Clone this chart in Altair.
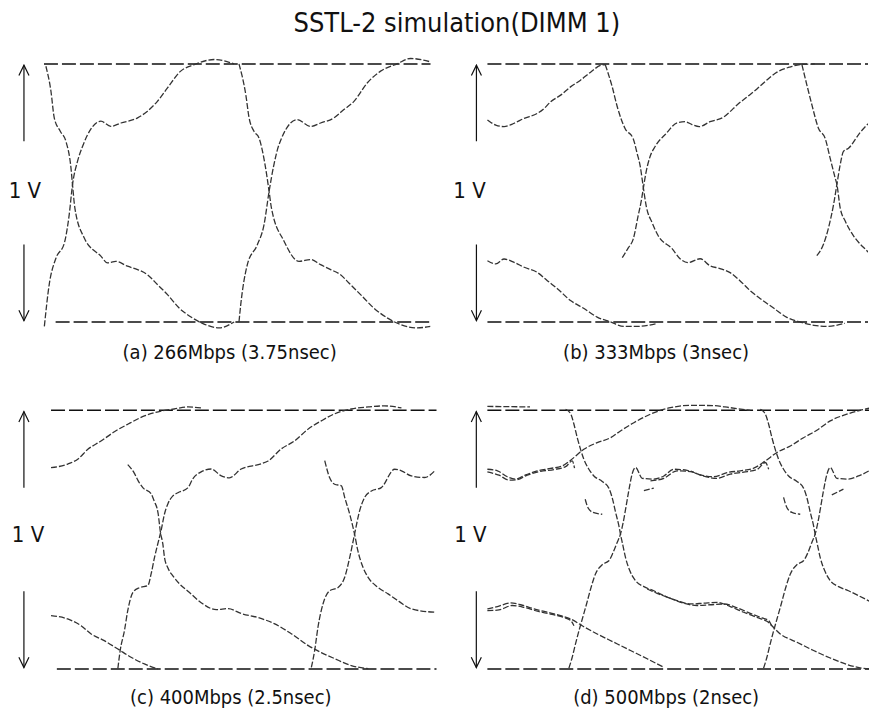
import altair as alt
import pandas as pd

FONT = "Liberation Sans Narrow, DejaVu Sans Condensed, sans-serif"
TITLE = "SSTL-2 simulation(DIMM 1)"

# time in unit intervals (UI), voltage normalised to the 1 V swing (0 = low rail, 1 = high rail)
CAPTIONS = ["(a) 266Mbps (3.75nsec)", "(b) 333Mbps (3nsec)", "(c) 400Mbps (2.5nsec)", "(d) 500Mbps (2nsec)"]
SWING_LABEL = "1 V"

# ---------------- (a) 266 Mbps ----------------
A_R1_t = [0.002, 0.027, 0.062, 0.105, 0.130, 0.147, 0.173, 0.199, 0.293, 0.344, 0.396, 0.482, 0.533, 0.584, 0.636, 0.704, 0.773, 0.876, 0.979]
A_R1_v = [-0.017, 0.145, 0.248, 0.306, 0.416, 0.532, 0.623, 0.681, 0.778, 0.758, 0.771, 0.791, 0.817, 0.855, 0.907, 0.972, 0.997, 1.017, 1.0]
A_F1_t = [0.010, 0.036, 0.053, 0.084, 0.113, 0.139, 0.147, 0.159, 0.207, 0.293, 0.327, 0.370, 0.430, 0.482, 0.533, 0.584, 0.636, 0.696, 0.764, 0.824, 0.901, 0.979]
A_F1_v = [0.991, 0.894, 0.791, 0.739, 0.700, 0.597, 0.532, 0.442, 0.326, 0.255, 0.229, 0.235, 0.216, 0.203, 0.183, 0.145, 0.106, 0.054, 0.016, -0.008, -0.023, 0.0]
A_R2_t = [1.004, 1.013, 1.047, 1.099, 1.133, 1.159, 1.184, 1.210, 1.304, 1.373, 1.424, 1.493, 1.544, 1.596, 1.664, 1.733, 1.818, 1.887, 1.990]
A_R2_v = [0.0, 0.067, 0.222, 0.300, 0.377, 0.506, 0.610, 0.687, 0.784, 0.758, 0.771, 0.791, 0.823, 0.855, 0.926, 0.972, 1.0, 1.021, 1.008]
A_F2_t = [1.004, 1.039, 1.056, 1.081, 1.107, 1.141, 1.159, 1.171, 1.236, 1.313, 1.373, 1.424, 1.476, 1.527, 1.570, 1.630, 1.698, 1.767, 1.835, 1.921, 1.990]
A_F2_v = [1.0, 0.881, 0.791, 0.739, 0.713, 0.597, 0.506, 0.442, 0.313, 0.235, 0.242, 0.222, 0.203, 0.183, 0.151, 0.106, 0.054, 0.016, -0.010, -0.023, -0.017]

# ---------------- (b) 333 Mbps ----------------
B1_t = [0, 0.043, 0.086, 0.138, 0.190, 0.258, 0.293, 0.327, 0.379, 0.430, 0.482, 0.534, 0.585, 0.611]
B1_v = [0.783, 0.763, 0.757, 0.770, 0.789, 0.808, 0.827, 0.853, 0.879, 0.911, 0.937, 0.968, 0.994, 0.997]
B2_t = [0.610, 0.646, 0.672, 0.713, 0.754, 0.775, 0.791, 0.806, 0.822, 0.853, 0.884, 0.956, 0.997, 1.039, 1.101, 1.152, 1.204, 1.256, 1.307, 1.359, 1.411, 1.483, 1.550, 1.618, 1.690, 1.757, 1.850]
B2_v = [0.997, 0.911, 0.834, 0.749, 0.711, 0.653, 0.603, 0.526, 0.449, 0.384, 0.334, 0.284, 0.245, 0.230, 0.245, 0.218, 0.207, 0.191, 0.160, 0.122, 0.091, 0.053, 0.018, 0.0, -0.013, -0.017, -0.005]
B3_t = [0.698, 0.729, 0.755, 0.780, 0.796, 0.806, 0.822, 0.842, 0.868, 0.925, 0.982, 1.023, 1.059, 1.096, 1.152, 1.225, 1.256, 1.292, 1.344, 1.395, 1.447, 1.499, 1.566, 1.618, 1.695]
B3_v = [0.249, 0.287, 0.322, 0.411, 0.468, 0.514, 0.584, 0.641, 0.680, 0.730, 0.772, 0.776, 0.765, 0.757, 0.776, 0.795, 0.815, 0.841, 0.872, 0.903, 0.938, 0.968, 0.988, 0.997, 1.0]
B4_t = [0, 0.043, 0.086, 0.138, 0.190, 0.258, 0.310, 0.362, 0.430, 0.500, 0.568, 0.637, 0.706, 0.775, 0.879]
B4_v = [0.237, 0.225, 0.244, 0.231, 0.212, 0.192, 0.160, 0.129, 0.083, 0.052, 0.019, 0.0, -0.017, -0.017, -0.006]
B5_t = [1.628, 1.654, 1.680, 1.714, 1.748, 1.774, 1.800, 1.809, 1.826, 1.852, 1.895, 1.964, 1.999]
B5_v = [0.997, 0.917, 0.840, 0.750, 0.712, 0.635, 0.558, 0.533, 0.442, 0.391, 0.334, 0.276, 0.250]
B6_t = [1.705, 1.740, 1.766, 1.792, 1.809, 1.826, 1.843, 1.869, 1.930, 1.981]
B6_v = [0.257, 0.302, 0.366, 0.456, 0.533, 0.609, 0.661, 0.673, 0.735, 0.776]

# ---------------- (c) 400 Mbps ----------------
C_UL_t = [0, 0.086, 0.138, 0.190, 0.258, 0.327, 0.396, 0.482, 0.568, 0.636, 0.708, 0.775]
C_UL_v = [0.778, 0.792, 0.811, 0.849, 0.881, 0.917, 0.946, 0.978, 0.997, 1.005, 1.013, 1.009]
C_R1_t = [0.345, 0.357, 0.379, 0.396, 0.422, 0.456, 0.500, 0.517, 0.534, 0.555, 0.568, 0.586, 0.603, 0.629, 0.655, 0.706, 0.732, 0.775, 0.827, 0.879, 0.921, 0.982, 1.085, 1.121, 1.189, 1.256, 1.328, 1.395, 1.463, 1.550, 1.638, 1.721, 1.809]
C_R1_v = [0.001, 0.071, 0.148, 0.225, 0.295, 0.314, 0.322, 0.368, 0.430, 0.495, 0.534, 0.600, 0.638, 0.669, 0.681, 0.700, 0.735, 0.762, 0.773, 0.746, 0.739, 0.773, 0.793, 0.804, 0.851, 0.881, 0.928, 0.959, 0.986, 1.005, 1.013, 1.017, 1.009]
C_F1_t = [0.396, 0.429, 0.450, 0.475, 0.517, 0.532, 0.553, 0.565, 0.577, 0.586, 0.603, 0.629, 0.663, 0.715, 0.775, 0.853, 0.915, 0.982, 1.070, 1.152, 1.240, 1.328, 1.395, 1.463, 1.550, 1.638]
C_F1_v = [0.790, 0.758, 0.727, 0.700, 0.677, 0.650, 0.600, 0.527, 0.484, 0.430, 0.391, 0.360, 0.329, 0.295, 0.256, 0.229, 0.233, 0.214, 0.198, 0.175, 0.136, 0.090, 0.063, 0.040, 0.013, 0.001]
C_LL_t = [0, 0.086, 0.155, 0.207, 0.275, 0.345, 0.413, 0.482, 0.551]
C_LL_v = [0.206, 0.193, 0.167, 0.135, 0.109, 0.077, 0.045, 0.019, 0.0]
C_F2_t = [1.413, 1.438, 1.464, 1.499, 1.516, 1.542, 1.567, 1.584, 1.611, 1.637, 1.688, 1.740, 1.798, 1.860, 1.981]
C_F2_v = [0.805, 0.740, 0.714, 0.708, 0.663, 0.598, 0.521, 0.457, 0.392, 0.354, 0.315, 0.290, 0.260, 0.232, 0.219]
C_R2_t = [1.344, 1.361, 1.378, 1.404, 1.438, 1.482, 1.516, 1.542, 1.567, 1.593, 1.619, 1.654, 1.705, 1.774, 1.809, 1.860, 1.929, 1.981]
C_R2_v = [0.006, 0.071, 0.161, 0.251, 0.302, 0.315, 0.354, 0.431, 0.521, 0.611, 0.663, 0.688, 0.701, 0.772, 0.766, 0.746, 0.740, 0.766]

# ---------------- (d) 500 Mbps ----------------
D_A_t = [0, 0.052, 0.103, 0.146, 0.198, 0.258, 0.326, 0.387, 0.430, 0.498, 0.567, 0.636, 0.687, 0.756, 0.842, 0.945, 1.048, 1.168, 1.254, 1.357]
D_A_v = [0.772, 0.766, 0.743, 0.734, 0.750, 0.766, 0.775, 0.785, 0.807, 0.849, 0.875, 0.894, 0.920, 0.952, 0.985, 1.010, 1.019, 1.018, 1.010, 1.0]
D_B_t = [0, 0.060, 0.112, 0.155, 0.206, 0.275, 0.344, 0.404, 0.438, 0.450]
D_B_v = [0.762, 0.749, 0.730, 0.732, 0.749, 0.764, 0.771, 0.782, 0.804, 0.776]
D_F_t = [0.404, 0.430, 0.447, 0.464, 0.481, 0.498, 0.524, 0.550, 0.593, 0.627, 0.644, 0.662, 0.679, 0.687, 0.698, 0.713, 0.735, 0.765, 0.808, 0.859, 0.911, 0.979, 1.048, 1.117, 1.186, 1.254, 1.323, 1.392, 1.443, 1.512, 1.598, 1.684, 1.770, 1.856, 1.924, 1.985]
D_F_v = [1.004, 0.987, 0.946, 0.894, 0.849, 0.811, 0.772, 0.746, 0.725, 0.699, 0.663, 0.605, 0.553, 0.521, 0.483, 0.431, 0.380, 0.341, 0.318, 0.302, 0.283, 0.264, 0.251, 0.254, 0.257, 0.241, 0.219, 0.199, 0.184, 0.135, 0.103, 0.071, 0.042, 0.017, 0.004, 0.0]
D_F2_t = [0.825, 0.876, 0.945, 1.014, 1.082, 1.151, 1.220, 1.289, 1.357, 1.418, 1.452, 1.469]
D_F2_v = [0.309, 0.292, 0.273, 0.254, 0.245, 0.248, 0.251, 0.236, 0.215, 0.197, 0.187, 0.163]
D_LL_t = [0, 0.052, 0.120, 0.172, 0.241, 0.309, 0.378, 0.430, 0.498, 0.567, 0.653, 0.739, 0.825, 0.911]
D_LL_v = [0.232, 0.241, 0.255, 0.248, 0.232, 0.219, 0.206, 0.193, 0.163, 0.135, 0.103, 0.071, 0.039, 0.006]
D_LL2_t = [0, 0.060, 0.129, 0.189, 0.258, 0.326, 0.395, 0.430, 0.447]
D_LL2_v = [0.225, 0.228, 0.245, 0.238, 0.223, 0.212, 0.199, 0.187, 0.167]
D_R_t = [0.421, 0.438, 0.455, 0.473, 0.490, 0.512, 0.533, 0.558, 0.593, 0.627, 0.649, 0.670, 0.687, 0.701, 0.715, 0.730, 0.747, 0.765, 0.799, 0.859, 0.911, 0.962, 1.031, 1.100, 1.168, 1.237, 1.306, 1.375, 1.435, 1.495, 1.564, 1.632, 1.701, 1.770, 1.856, 1.924, 1.985]
D_R_v = [0.003, 0.045, 0.097, 0.148, 0.193, 0.251, 0.309, 0.367, 0.403, 0.418, 0.450, 0.489, 0.521, 0.566, 0.624, 0.689, 0.753, 0.779, 0.737, 0.734, 0.746, 0.772, 0.768, 0.750, 0.743, 0.759, 0.766, 0.776, 0.804, 0.837, 0.862, 0.894, 0.923, 0.959, 0.985, 1.0, 1.010]
D_F3_t = [1.409, 1.435, 1.452, 1.469, 1.486, 1.503, 1.529, 1.555, 1.598, 1.632, 1.649, 1.667, 1.684, 1.692, 1.703, 1.718, 1.741, 1.770, 1.813, 1.864, 1.916, 1.985]
D_F3_v = [1.004, 0.985, 0.946, 0.894, 0.849, 0.811, 0.772, 0.746, 0.725, 0.699, 0.663, 0.605, 0.553, 0.521, 0.483, 0.431, 0.380, 0.341, 0.318, 0.302, 0.283, 0.257]
D_R2_t = [1.426, 1.443, 1.460, 1.478, 1.495, 1.517, 1.538, 1.564, 1.598, 1.632, 1.655, 1.675, 1.692, 1.706, 1.720, 1.735, 1.753, 1.770, 1.804, 1.864, 1.916, 1.985]
D_R2_v = [0.003, 0.045, 0.097, 0.148, 0.193, 0.251, 0.309, 0.367, 0.403, 0.418, 0.450, 0.489, 0.521, 0.566, 0.624, 0.689, 0.753, 0.779, 0.737, 0.734, 0.746, 0.772]
D_B2_t = [0.842, 0.911, 0.979, 1.048, 1.117, 1.186, 1.254, 1.323, 1.392, 1.435, 1.452]
D_B2_v = [0.727, 0.737, 0.766, 0.763, 0.745, 0.737, 0.753, 0.761, 0.771, 0.798, 0.772]
D_H1_t = [0.505, 0.519, 0.545, 0.593]
D_H1_v = [0.656, 0.624, 0.605, 0.598]
D_H2_t = [1.529, 1.546, 1.572, 1.615]
D_H2_v = [0.663, 0.624, 0.605, 0.598]
D_S1_t = [0.808, 0.859]
D_S1_v = [0.689, 0.699]
D_S2_t = [1.778, 1.838]
D_S2_v = [0.673, 0.695]
D_OV_t = [0.0, 0.22]
D_OV_v = [1.015, 1.013]

# rails (high / low level), start of each rail in UI
RAIL_START_HIGH = [0.0, 0.0, 0.0, 0.0]
RAIL_START_LOW = [0.06, 0.0, 0.03, 0.0]
RAIL_END = 2.0

# swing annotation: arrow x, label x, label level (UI / normalised V)
ARROW_X = [-0.103, -0.057, -0.140, -0.057]
LABEL_X = [-0.098, -0.093, -0.119, -0.088]
LABEL_V = [0.507, 0.507, 0.516, 0.516]
CAPTION_X = [0.956, 0.873, 0.928, 0.923]
CAPTION_V = [-0.120, -0.120, -0.111, -0.111]

# per-panel scale domains (UI and V) and pixels per unit
X_DOMAINS = [[-0.18, 1.99], [-0.243, 1.97], [-0.217, 1.99], [-0.211, 1.97]]
PX_PER_UI = [194.5, 193.5, 194.0, 194.0]
Y_DOMAINS = [[-0.159, 1.068], [-0.159, 1.068], [-0.142, 1.067], [-0.142, 1.067]]
PX_PER_V = 258.5

TRACES = [
    {"R1": (A_R1_t, A_R1_v), "F1": (A_F1_t, A_F1_v), "R2": (A_R2_t, A_R2_v), "F2": (A_F2_t, A_F2_v)},
    {"B1": (B1_t, B1_v), "B2": (B2_t, B2_v), "B3": (B3_t, B3_v), "B4": (B4_t, B4_v), "B5": (B5_t, B5_v), "B6": (B6_t, B6_v)},
    {"UL": (C_UL_t, C_UL_v), "R1": (C_R1_t, C_R1_v), "F1": (C_F1_t, C_F1_v), "LL": (C_LL_t, C_LL_v),
     "F2": (C_F2_t, C_F2_v), "R2": (C_R2_t, C_R2_v)},
    {"A": (D_A_t, D_A_v), "B": (D_B_t, D_B_v), "F": (D_F_t, D_F_v), "F2": (D_F2_t, D_F2_v), "LL": (D_LL_t, D_LL_v),
     "LL2": (D_LL2_t, D_LL2_v), "R": (D_R_t, D_R_v), "F3": (D_F3_t, D_F3_v), "R2": (D_R2_t, D_R2_v),
     "B2": (D_B2_t, D_B2_v), "H1": (D_H1_t, D_H1_v), "H2": (D_H2_t, D_H2_v), "S1": (D_S1_t, D_S1_v),
     "S2": (D_S2_t, D_S2_v), "OV": (D_OV_t, D_OV_v)},
]


def long_df(strokes):
    rows = []
    for sid, (ts, vs) in strokes.items():
        for i, (t, v) in enumerate(zip(ts, vs)):
            rows.append({"sid": sid, "i": i, "t": t, "v": v})
    return pd.DataFrame(rows)


def panel(k):
    xs = alt.Scale(domain=X_DOMAINS[k], nice=False, zero=False)
    ys = alt.Scale(domain=Y_DOMAINS[k], nice=False, zero=False)
    X = alt.X("t:Q", scale=xs, axis=None)
    Y = alt.Y("v:Q", scale=ys, axis=None)

    rails = long_df({
        "hi": ([RAIL_START_HIGH[k], RAIL_END], [1.0, 1.0]),
        "lo": ([RAIL_START_LOW[k], RAIL_END], [0.0, 0.0]),
    })
    ax = ARROW_X[k]
    hw = 0.026
    arrows = long_df({
        "s1": ([ax, ax], [0.995, 0.70]),
        "s2": ([ax, ax], [0.30, 0.005]),
        "h1": ([ax - hw, ax, ax + hw], [0.955, 0.995, 0.955]),
        "h2": ([ax - hw, ax, ax + hw], [0.045, 0.005, 0.045]),
    })
    texts = pd.DataFrame({
        "t": [LABEL_X[k], CAPTION_X[k]],
        "v": [LABEL_V[k], CAPTION_V[k]],
        "txt": [SWING_LABEL, CAPTIONS[k]],
        "size": [22, 20],
    })

    rail_layer = alt.Chart(rails).mark_line(
        clip=True, color="#111111", strokeWidth=1.5, strokeDash=[14, 4]
    ).encode(x=X, y=Y, detail="sid:N", order="i:Q")
    trace_layer = alt.Chart(long_df(TRACES[k])).mark_line(
        clip=True, color="#333333", strokeWidth=1.3, strokeDash=[6, 2], interpolate="monotone"
    ).encode(x=X, y=Y, detail="sid:N", order="i:Q")
    arrow_layer = alt.Chart(arrows).mark_line(
        clip=True, color="#111111", strokeWidth=1.2
    ).encode(x=X, y=Y, detail="sid:N", order="i:Q")
    text_layer = alt.Chart(texts).mark_text(
        font=FONT, color="#111111", align="center", baseline="middle"
    ).encode(x=X, y=Y, text="txt:N", size=alt.Size("size:Q", scale=None, legend=None))

    w = round((X_DOMAINS[k][1] - X_DOMAINS[k][0]) * PX_PER_UI[k])
    h = round((Y_DOMAINS[k][1] - Y_DOMAINS[k][0]) * PX_PER_V)
    return alt.layer(rail_layer, trace_layer, arrow_layer, text_layer).properties(width=w, height=h)


row1 = alt.hconcat(panel(0), panel(1), spacing=10)
row2 = alt.hconcat(panel(2), panel(3), spacing=10)
chart = alt.vconcat(
    row1, row2, spacing=30,
    title=alt.TitleParams(TITLE, font=FONT, fontSize=27, fontWeight="normal", color="#111111",
                          anchor="middle", dx=18, offset=8),
).properties(padding={"left": 0, "top": 2, "right": 0, "bottom": 0}).configure_view(stroke=None)

chart.save("out.html", embed_options={"renderer": "svg", "actions": False})
